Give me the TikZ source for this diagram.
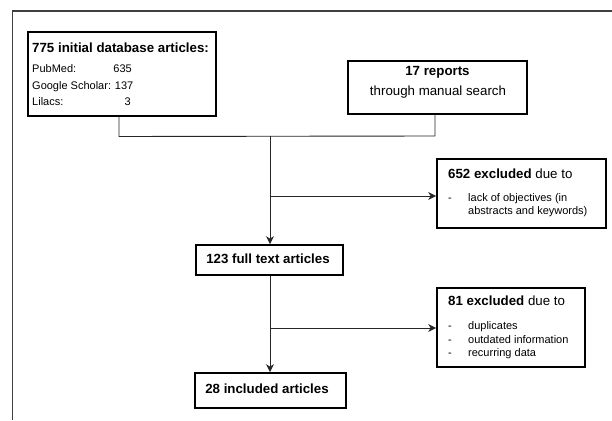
\documentclass[tikz,border=0pt]{standalone}
\usepackage{fontspec}
\setmainfont{Liberation Sans}
\usetikzlibrary{arrows.meta}
\begin{document}
\begin{tikzpicture}[x=1pt,y=-1pt,
  boxnode/.style={draw=black,line width=1.7pt,rectangle,inner sep=0pt},
  conn/.style={draw=black!85,line width=0.9pt},
  arr/.style={conn,-{Stealth[length=8pt,width=8pt,inset=2.5pt]}},
  big/.style={font=\fontsize{13.3}{16}\selectfont,inner sep=0pt,text height=9.6pt,text depth=2.8pt},
  small/.style={font=\fontsize{11}{13}\selectfont,inner sep=0pt,text height=8pt,text depth=2.3pt}]
\useasboundingbox (0,0) rectangle (612,420);
% frame
\draw[black!75,line width=1.3pt] (12.5,420) -- (12.5,11) -- (612,11);
% boxes
\node[boxnode,minimum width=188pt,minimum height=84pt] (b1) at (122,74) {};
\node[boxnode,minimum width=179pt,minimum height=53pt] (b2) at (437.5,87.5) {};
\node[boxnode,minimum width=169pt,minimum height=69pt] (b3) at (521.5,193.5) {};
\node[boxnode,minimum width=147pt,minimum height=30pt] (b123) at (269.5,260) {};
\node[boxnode,minimum width=148pt,minimum height=79pt] (b4) at (511,327.5) {};
\node[boxnode,minimum width=151pt,minimum height=35pt] (b28) at (270.5,390.5) {};
% box 1 texts
\node[big,anchor=west] (t1) at (32,49) {\textbf{775 initial database articles:}};
\node[small,anchor=west] (l1) at (32,70) {PubMed:};
\node[small,anchor=west] (l2) at (32,86.5) {Google Scholar:};
\node[small,anchor=west] (l3) at (32,102.5) {Lilacs:};
\node[small,anchor=east] (n1) at (132,70) {635};
\node[small,anchor=east] (n2) at (133.5,86.5) {137};
\node[small,anchor=east] (n3) at (131,102.5) {3};
% box 2 texts
\node[big] (t2a) at (437.5,72) {\textbf{17 reports}};
\node[big] (t2b) at (438,92) {through manual search};
% box 3 texts
\node[big,anchor=west] (t3) at (448,175) {\textbf{652 excluded} due to};
\node[small,anchor=west] (d3) at (448,199) {-};
\node[small,anchor=west] (t3a) at (468,199) {lack of objectives (in};
\node[small,anchor=west] (t3b) at (468,212) {abstracts and keywords)};
% box 123 / 28 texts
\node[big] (t123) at (268,260) {\textbf{123 full text articles}};
\node[big] (t28) at (267,390.5) {\textbf{28 included articles}};
% box 4 texts
\node[big,anchor=west] (t4) at (448,302) {\textbf{81 excluded} due to};
\node[small,anchor=west] (d4a) at (448,327) {-};
\node[small,anchor=west] (d4b) at (448,340.5) {-};
\node[small,anchor=west] (d4c) at (448,354) {-};
\node[small,anchor=west] (t4a) at (468,327) {duplicates};
\node[small,anchor=west] (t4b) at (468,340.5) {outdated information};
\node[small,anchor=west] (t4c) at (468,354) {recurring data};
% connectors
\coordinate (j1) at (119,136.5);
\coordinate (j2) at (435,136);
\coordinate (jm) at (270,136.3);
\coordinate (br1) at (270,196);
\coordinate (br2) at (270,328);
\draw[conn] ([xshift=-3pt]b1.south) -- (j1) -- (j2) -- ([xshift=-2.5pt]b2.south);
\draw[arr] (jm) -- (jm |- b123.north);
\draw[arr] (br1) -- (b3.west |- br1);
\draw[arr] ([xshift=0.5pt]b123.south) -- ([xshift=0.5pt]b123.south |- b28.north);
\draw[arr] (br2) -- (b4.west |- br2);
\end{tikzpicture}
\end{document}
